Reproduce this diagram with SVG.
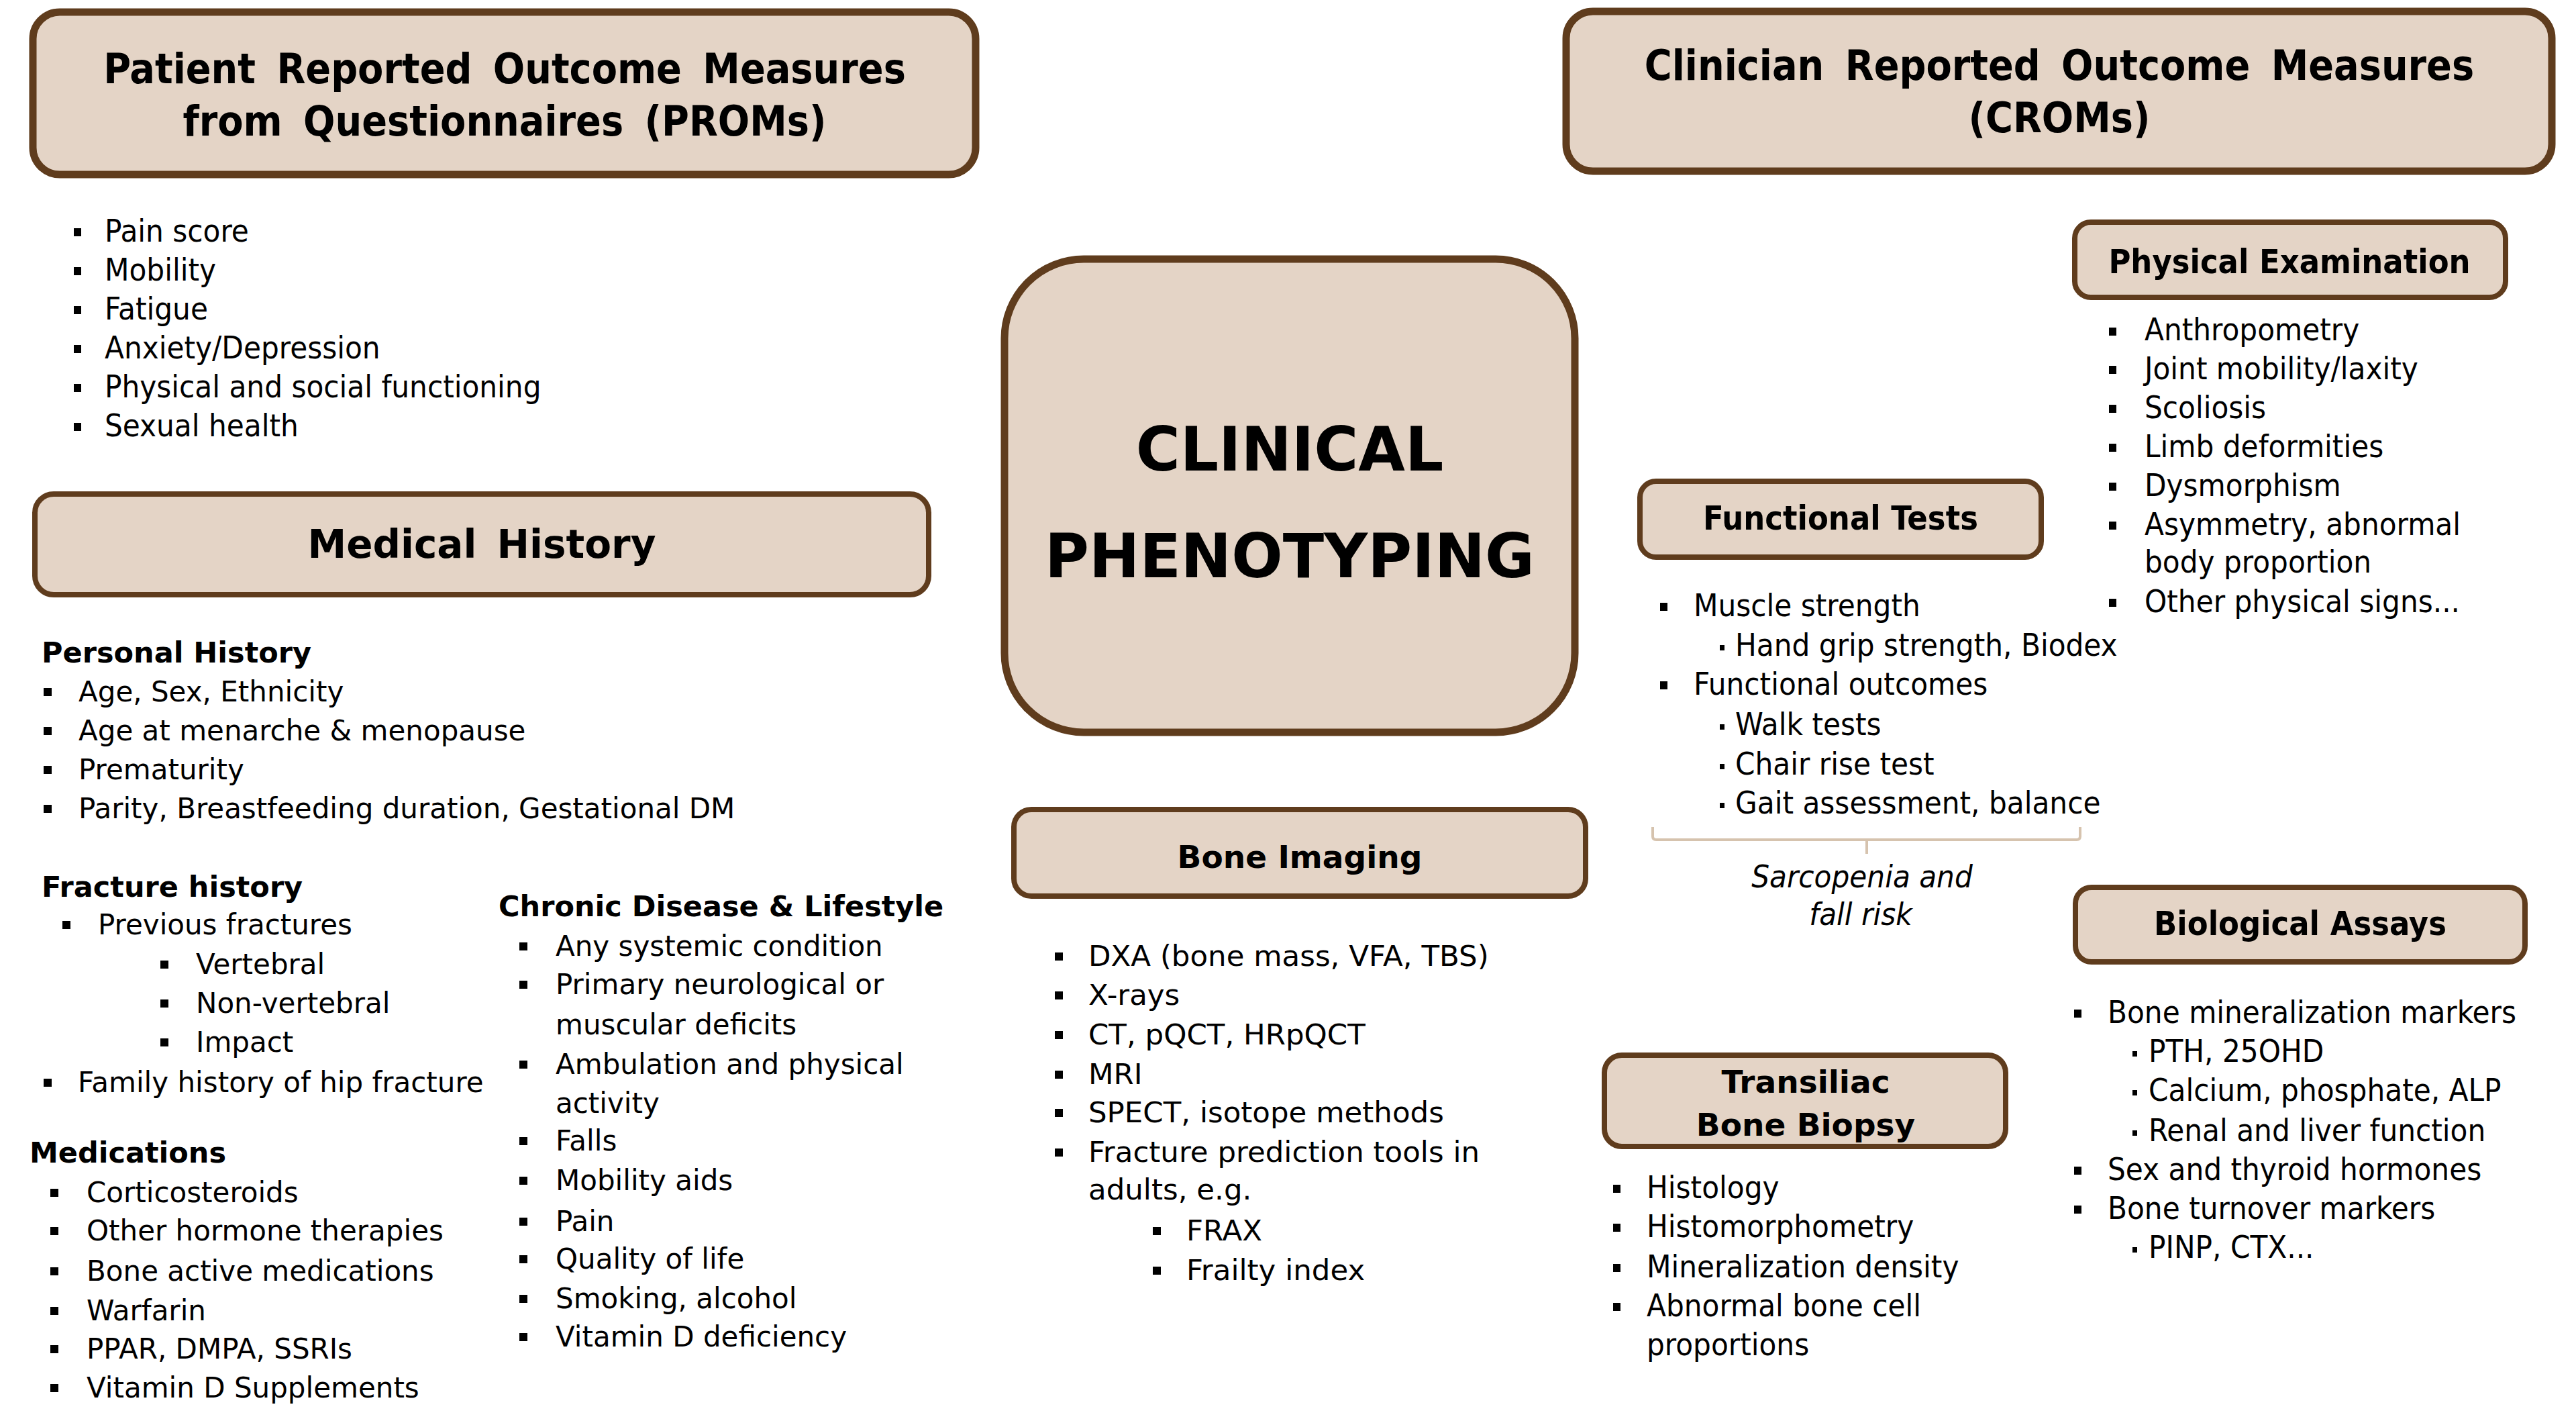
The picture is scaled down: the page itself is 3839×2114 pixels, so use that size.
<svg xmlns="http://www.w3.org/2000/svg" width="3839" height="2114" viewBox="0 0 3839 2114">
<style>
.box{fill:#e4d4c6;stroke:#5f3c1d}
.big{stroke-width:11}
.sm{stroke-width:8}
text{fill:#000}
.tc{font-family:"DejaVu Sans Condensed","DejaVu Sans",sans-serif;font-stretch:condensed}
.vd{font-family:"DejaVu Sans",Verdana,sans-serif}
.h1{font-size:62px;font-weight:bold;text-anchor:middle;word-spacing:12px}
.h2{font-size:50px;font-weight:bold;text-anchor:middle}
.h3{font-size:47px;font-weight:bold;text-anchor:middle}
.hv{font-size:43px;font-weight:bold}
.lt{font-size:47px}
.lv{font-size:42px}
.lb{font-size:43.5px}
.it{font-size:47px;font-style:italic;text-anchor:middle}
.b{fill:#000}
.bracket{fill:none;stroke:#d6c3ae;stroke-width:4}
</style>
<rect width="3839" height="2114" fill="#fff"/>

<g id="proms">
<rect class="box big" x="49" y="18" width="1405" height="242" rx="40"/>
<text class="tc h1" x="752" y="124">Patient Reported Outcome Measures</text>
<text class="tc h1" x="752" y="202">from Questionnaires (PROMs)</text>
<g class="tc lt">
<rect class="b" x="110" y="340" width="11" height="12"/><text x="156" y="360">Pain score</text>
<rect class="b" x="110" y="398" width="11" height="12"/><text x="156" y="418">Mobility</text>
<rect class="b" x="110" y="456" width="11" height="12"/><text x="156" y="476">Fatigue</text>
<rect class="b" x="110" y="514" width="11" height="12"/><text x="156" y="534">Anxiety/Depression</text>
<rect class="b" x="110" y="572" width="11" height="12"/><text x="156" y="592">Physical and social functioning</text>
<rect class="b" x="110" y="630" width="11" height="12"/><text x="156" y="650">Sexual health</text>
</g>
</g>

<g id="croms">
<rect class="box big" x="2334" y="17" width="1469" height="238" rx="40"/>
<text class="tc h1" x="3069" y="119">Clinician Reported Outcome Measures</text>
<text class="tc h1" x="3069" y="197">(CROMs)</text>
</g>

<g id="clinical-phenotyping">
<rect class="box big" x="1497" y="386" width="850" height="705" rx="118"/>
<text class="vd" x="1922" y="701" font-size="90" font-weight="bold" text-anchor="middle">CLINICAL</text>
<text class="vd" x="1922" y="860" font-size="90" font-weight="bold" text-anchor="middle">PHENOTYPING</text>
</g>

<g id="medical-history">
<rect class="box sm" x="52" y="736" width="1332" height="150" rx="28"/>
<text class="vd" x="718" y="831" font-size="58" font-weight="bold" text-anchor="middle" word-spacing="10">Medical History</text>
<text class="vd hv" x="62" y="987">Personal History</text>
<g class="vd lv">
<rect class="b" x="65" y="1025" width="12" height="12"/><text x="117" y="1045">Age, Sex, Ethnicity</text>
<rect class="b" x="65" y="1083" width="12" height="12"/><text x="117" y="1103">Age at menarche &amp; menopause</text>
<rect class="b" x="65" y="1141" width="12" height="12"/><text x="117" y="1161">Prematurity</text>
<rect class="b" x="65" y="1199" width="12" height="12"/><text x="117" y="1219">Parity, Breastfeeding duration, Gestational DM</text>
</g>
<text class="vd hv" x="62" y="1336">Fracture history</text>
<g class="vd lv">
<rect class="b" x="93" y="1372" width="12" height="12"/><text x="146" y="1392">Previous fractures</text>
<rect class="b" x="239" y="1431" width="12" height="12"/><text x="292" y="1451">Vertebral</text>
<rect class="b" x="239" y="1489" width="12" height="12"/><text x="292" y="1509">Non-vertebral</text>
<rect class="b" x="239" y="1547" width="12" height="12"/><text x="292" y="1567">Impact</text>
<rect class="b" x="65" y="1607" width="12" height="12"/><text x="116" y="1627">Family history of hip fracture</text>
</g>
<text class="vd hv" x="44" y="1732">Medications</text>
<g class="vd lv">
<rect class="b" x="75" y="1771" width="12" height="12"/><text x="129" y="1791">Corticosteroids</text>
<rect class="b" x="75" y="1828" width="12" height="12"/><text x="129" y="1848">Other hormone therapies</text>
<rect class="b" x="75" y="1888" width="12" height="12"/><text x="129" y="1908">Bone active medications</text>
<rect class="b" x="75" y="1947" width="12" height="12"/><text x="129" y="1967">Warfarin</text>
<rect class="b" x="75" y="2004" width="12" height="12"/><text x="129" y="2024">PPAR, DMPA, SSRIs</text>
<rect class="b" x="75" y="2062" width="12" height="12"/><text x="129" y="2082">Vitamin D Supplements</text>
</g>
<text class="vd hv" x="743" y="1365">Chronic Disease &amp; Lifestyle</text>
<g class="vd lv">
<rect class="b" x="774" y="1404" width="12" height="12"/><text x="828" y="1424">Any systemic condition</text>
<rect class="b" x="774" y="1461" width="12" height="12"/><text x="828" y="1481">Primary neurological or</text>
<text x="828" y="1541">muscular deficits</text>
<rect class="b" x="774" y="1580" width="12" height="12"/><text x="828" y="1600">Ambulation and physical</text>
<text x="828" y="1658">activity</text>
<rect class="b" x="774" y="1694" width="12" height="12"/><text x="828" y="1714">Falls</text>
<rect class="b" x="774" y="1753" width="12" height="12"/><text x="828" y="1773">Mobility aids</text>
<rect class="b" x="774" y="1814" width="12" height="12"/><text x="828" y="1834">Pain</text>
<rect class="b" x="774" y="1870" width="12" height="12"/><text x="828" y="1890">Quality of life</text>
<rect class="b" x="774" y="1929" width="12" height="12"/><text x="828" y="1949">Smoking, alcohol</text>
<rect class="b" x="774" y="1986" width="12" height="12"/><text x="828" y="2006">Vitamin D deficiency</text>
</g>
</g>

<g id="bone-imaging">
<rect class="box sm" x="1511" y="1206" width="852" height="129" rx="26"/>
<text class="vd h3" x="1937" y="1293">Bone Imaging</text>
<g class="vd lb">
<rect class="b" x="1572" y="1419" width="12" height="12"/><text x="1622" y="1439">DXA (bone mass, VFA, TBS)</text>
<rect class="b" x="1572" y="1477" width="12" height="12"/><text x="1622" y="1497">X-rays</text>
<rect class="b" x="1572" y="1536" width="12" height="12"/><text x="1622" y="1556">CT, pQCT, HRpQCT</text>
<rect class="b" x="1572" y="1595" width="12" height="12"/><text x="1622" y="1615">MRI</text>
<rect class="b" x="1572" y="1652" width="12" height="12"/><text x="1622" y="1672">SPECT, isotope methods</text>
<rect class="b" x="1572" y="1711" width="12" height="12"/><text x="1622" y="1731">Fracture prediction tools in</text>
<text x="1622" y="1787">adults, e.g.</text>
<rect class="b" x="1718" y="1828" width="12" height="12"/><text x="1768" y="1848">FRAX</text>
<rect class="b" x="1718" y="1887" width="12" height="12"/><text x="1768" y="1907">Frailty index</text>
</g>
</g>

<g id="physical-examination">
<rect class="box sm" x="3092" y="331" width="642" height="112" rx="24"/>
<text class="tc h2" x="3412" y="407">Physical Examination</text>
<g class="tc lt">
<rect class="b" x="3143" y="488" width="11" height="12"/><text x="3196" y="507">Anthropometry</text>
<rect class="b" x="3143" y="545" width="11" height="12"/><text x="3196" y="565">Joint mobility/laxity</text>
<rect class="b" x="3143" y="603" width="11" height="12"/><text x="3196" y="623">Scoliosis</text>
<rect class="b" x="3143" y="661" width="11" height="12"/><text x="3196" y="681">Limb deformities</text>
<rect class="b" x="3143" y="719" width="11" height="12"/><text x="3196" y="739">Dysmorphism</text>
<rect class="b" x="3143" y="777" width="11" height="12"/><text x="3196" y="797">Asymmetry, abnormal</text>
<text x="3196" y="853">body proportion</text>
<rect class="b" x="3143" y="892" width="11" height="12"/><text x="3196" y="912">Other physical signs...</text>
</g>
</g>

<g id="functional-tests">
<rect class="box sm" x="2444" y="717" width="598" height="113" rx="24"/>
<text class="tc h2" x="2743" y="789">Functional Tests</text>
<g class="tc lt">
<rect class="b" x="2474" y="898" width="11" height="12"/><text x="2524" y="918">Muscle strength</text>
<rect class="b" x="2563" y="961" width="7" height="8"/><text x="2586" y="977">Hand grip strength, Biodex</text>
<rect class="b" x="2474" y="1015" width="11" height="12"/><text x="2524" y="1035">Functional outcomes</text>
<rect class="b" x="2563" y="1079" width="7" height="8"/><text x="2586" y="1095">Walk tests</text>
<rect class="b" x="2563" y="1138" width="7" height="8"/><text x="2586" y="1154">Chair rise test</text>
<rect class="b" x="2563" y="1196" width="7" height="8"/><text x="2586" y="1212">Gait assessment, balance</text>
</g>
<path class="bracket" d="M2463 1232 V1246 Q2463 1251 2468 1251 H3095 Q3100 1251 3100 1246 V1232 M2782 1251 V1272"/>
<text class="tc it" x="2775" y="1322">Sarcopenia and</text>
<text class="tc it" x="2773" y="1378">fall risk</text>
</g>

<g id="biological-assays">
<rect class="box sm" x="3093" y="1322" width="670" height="111" rx="24"/>
<text class="tc h2" x="3428" y="1393">Biological Assays</text>
<g class="tc lt">
<rect class="b" x="3091" y="1504" width="11" height="12"/><text x="3141" y="1524">Bone mineralization markers</text>
<rect class="b" x="3178" y="1566" width="7" height="8"/><text x="3202" y="1582">PTH, 25OHD</text>
<rect class="b" x="3178" y="1624" width="7" height="8"/><text x="3202" y="1640">Calcium, phosphate, ALP</text>
<rect class="b" x="3178" y="1684" width="7" height="8"/><text x="3202" y="1700">Renal and liver function</text>
<rect class="b" x="3091" y="1738" width="11" height="12"/><text x="3141" y="1758">Sex and thyroid hormones</text>
<rect class="b" x="3091" y="1796" width="11" height="12"/><text x="3141" y="1816">Bone turnover markers</text>
<rect class="b" x="3178" y="1858" width="7" height="8"/><text x="3202" y="1874">PINP, CTX...</text>
</g>
</g>

<g id="bone-biopsy">
<rect class="box sm" x="2391" y="1572" width="598" height="136" rx="26"/>
<text class="vd h3" x="2691" y="1628">Transiliac</text>
<text class="vd h3" x="2691" y="1692">Bone Biopsy</text>
<g class="tc lt">
<rect class="b" x="2404" y="1765" width="11" height="12"/><text x="2454" y="1785">Histology</text>
<rect class="b" x="2404" y="1823" width="11" height="12"/><text x="2454" y="1843">Histomorphometry</text>
<rect class="b" x="2404" y="1883" width="11" height="12"/><text x="2454" y="1903">Mineralization density</text>
<rect class="b" x="2404" y="1941" width="11" height="12"/><text x="2454" y="1961">Abnormal bone cell</text>
<text x="2454" y="2019">proportions</text>
</g>
</g>

<g id="connectors"></g>
</svg>
